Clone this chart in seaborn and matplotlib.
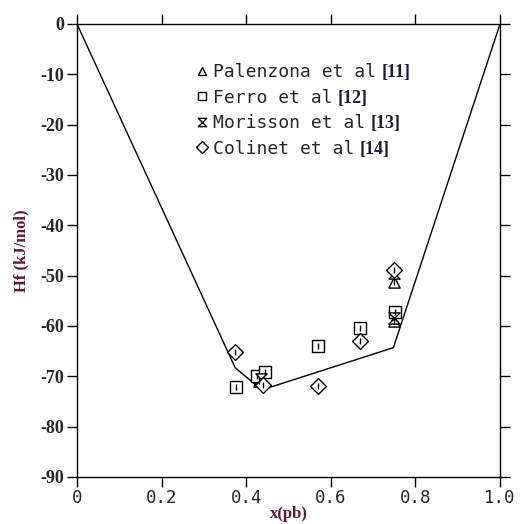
import numpy as np
import seaborn as sns
import matplotlib.pyplot as plt
from matplotlib.lines import Line2D
from matplotlib.path import Path

# enthalpy of formation data (x(pb), Hf kJ/mol)
line_x = [0.0, 0.374, 0.437, 0.748, 1.0]
line_y = [0.0, -68.3, -72.7, -64.3, 0.0]

palenzona_x = [0.43, 0.75, 0.75]
palenzona_y = [-71.0, -51.2, -59.1]

ferro_x = [0.376, 0.425, 0.444, 0.570, 0.669, 0.752]
ferro_y = [-72.1, -69.9, -69.1, -63.9, -60.3, -57.2]

morisson_x = [0.435, 0.75, 0.75]
morisson_y = [-70.5, -49.5, -58.5]

colinet_x = [0.374, 0.44, 0.570, 0.668, 0.749]
colinet_y = [-65.1, -71.7, -71.9, -63.0, -48.9]

labels = ['Palenzona et al', 'Ferro et al', 'Morisson et al', 'Colinet et al']
refs = ['[11]', '[12]', '[13]', '[14]']

xticks = [0, 0.2, 0.4, 0.6, 0.8, 1.0]
xticklabels = ['0', '0.2', '0.4', '0.6', '0.8', '1.0']
yticks = list(range(0, -100, -10))

sns.set_style('ticks')
plt.rcParams['font.family'] = ['DejaVu Sans']

# hourglass marker
hourglass = Path([(-1, 1), (1, 1), (-1, -1), (1, -1), (-1, 1)],
                 [Path.MOVETO, Path.LINETO, Path.LINETO, Path.LINETO, Path.CLOSEPOLY])

fig = plt.figure(figsize=(5.21, 5.24), dpi=100)
ax = fig.add_axes([0.1478, 0.0897, 0.8119, 0.8645])

sns.lineplot(x=line_x, y=line_y, ax=ax, color='black', lw=1.0, sort=False)

mk = dict(ax=ax, color='white', edgecolor='black', linewidth=1.0, s=65, zorder=3)
sns.scatterplot(x=palenzona_x, y=palenzona_y, marker='^', **mk)
sns.scatterplot(x=ferro_x, y=ferro_y, marker='s', **mk)
sns.scatterplot(x=morisson_x, y=morisson_y, marker=hourglass, **mk)
sns.scatterplot(x=colinet_x, y=colinet_y, marker='D', **mk)
# little strokes inside the symbols
for xs, ys in [(palenzona_x, palenzona_y), (ferro_x, ferro_y), (colinet_x, colinet_y)]:
    sns.scatterplot(x=xs, y=ys, marker='|', color='black', s=20, linewidth=1.0,
                    ax=ax, zorder=4)

ax.set_xlim(0, 1.0)
ax.set_ylim(-90, 0)
ax.set_xticks(xticks)
ax.set_xticklabels(xticklabels, family='DejaVu Sans Mono', fontsize=12.5)
ax.set_yticks(yticks)
ax.set_yticklabels([str(v) for v in yticks], family='Liberation Serif',
                   fontweight='bold', fontsize=13)
ax.tick_params(direction='out', length=7, width=1.0, color='black',
               top=True, right=True, pad=2)
for s in ax.spines.values():
    s.set_linewidth(1.0)
    s.set_color('black')

lab_col = '#5e1a2e'
ax.set_ylabel('Hf (kJ/mol)', family='Liberation Serif', fontweight='bold',
              fontsize=12, color=lab_col, labelpad=8)
ax.set_xlabel('x(pb)', family='Liberation Serif', fontweight='bold',
              fontsize=12, color=lab_col, labelpad=-1)

handles = [
    Line2D([], [], ls='none', marker='^', mfc='white', mec='black', ms=6, mew=1),
    Line2D([], [], ls='none', marker='s', mfc='white', mec='black', ms=6, mew=1),
    Line2D([], [], ls='none', marker=hourglass, mfc='white', mec='black', ms=6, mew=1),
    Line2D([], [], ls='none', marker='D', mfc='white', mec='black', ms=6, mew=1),
]
leg = ax.legend(handles, labels, loc='upper left', bbox_to_anchor=(0.265, 0.93),
                frameon=False, prop={'family': 'DejaVu Sans Mono', 'size': 13},
                handlelength=0.6, handletextpad=0.3, labelspacing=0.42,
                borderaxespad=0)
fig.canvas.draw()
for t, r in zip(leg.get_texts(), refs):
    ax.annotate(r, xy=(1, 0), xycoords=t, xytext=(4, 0), textcoords='offset points',
                va='bottom', ha='left', family='Liberation Serif', fontweight='bold',
                fontsize=13, color='#1a1a40')

fig.savefig('out.png', dpi=100)
